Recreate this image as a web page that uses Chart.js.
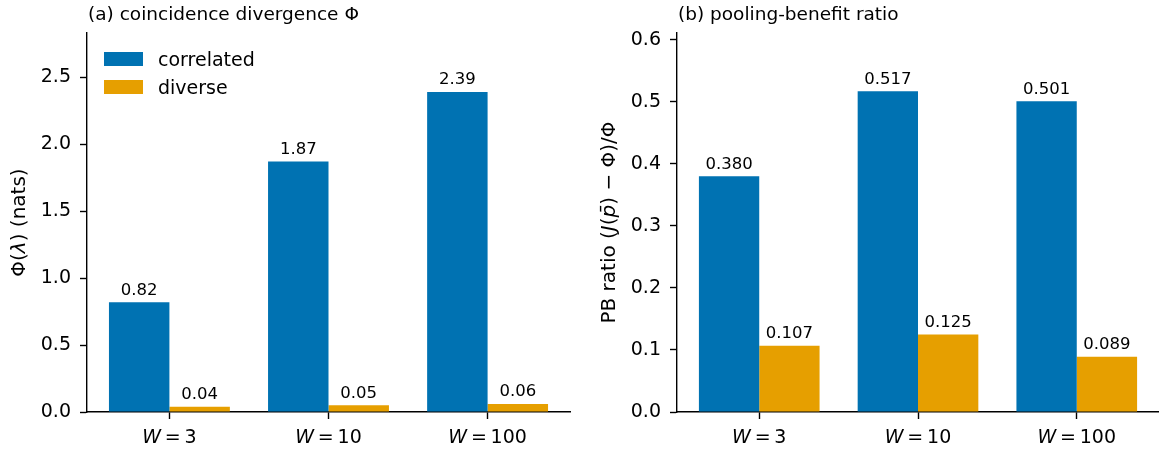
<!DOCTYPE html>
<html>
<head>
<meta charset="utf-8">
<script src="https://cdn.jsdelivr.net/npm/chart.js@4.4.1/dist/chart.umd.min.js"></script>
<style>
  html, body { margin: 0; padding: 0; background: #fff; }
  #wrap { position: relative; width: 1159px; height: 451px; overflow: hidden; }
  canvas { position: absolute; top: 0; }
</style>
</head>
<body>
<div id="wrap">
  <canvas id="c1" width="580" height="451" style="left:0px"></canvas>
  <canvas id="c2" width="569" height="451" style="left:590px"></canvas>
</div>
<script>
// ---- data ----
const categories = ['W = 3', 'W = 10', 'W = 100'];
const seriesNames = ['correlated', 'diverse'];
const phiCorrelated = [0.82, 1.87, 2.39];
const phiDiverse = [0.04, 0.05, 0.06];
const pbCorrelated = [0.380, 0.517, 0.501];
const pbDiverse = [0.107, 0.125, 0.089];
const phiTicks = [0, 0.5, 1.0, 1.5, 2.0, 2.5];
const pbTicks = [0, 0.1, 0.2, 0.3, 0.4, 0.5, 0.6];
const titleA = '(a) coincidence divergence Φ';
const titleB = '(b) pooling-benefit ratio';
const yTitleA = [{t: 'Φ('}, {t: 'λ', i: true}, {t: ') (nats)'}];
const yTitleB = [{t: 'PB ratio ('}, {t: 'J', i: true}, {t: '('}, {t: 'p\u0304', i: true}, {t: ') − Φ)/Φ'}];

const BLUE = '#0072B2', ORANGE = '#E69F00';
const FF = '"DejaVu Sans", sans-serif';
const TICK_PX = 19, LABEL_PX = 16.5, TITLE_PX = 18.5, YTITLE_PX = 20;

function fontOf(seg, px) { return (seg.i ? 'italic ' : '') + px + 'px ' + FF; }
function drawRich(ctx, segs, x, y, px, align) {
  let total = 0;
  const w = s => { if (s.gap) return s.gap * px; ctx.font = fontOf(s, px); return ctx.measureText(s.t).width; };
  segs.forEach(s => { total += w(s); });
  let cx = align === 'center' ? x - total / 2 : x;
  ctx.textAlign = 'left';
  segs.forEach(s => {
    const ww = w(s);
    if (!s.gap) { ctx.font = fontOf(s, px); ctx.fillText(s.t, cx, y); }
    cx += ww;
  });
}
function catSegs(label) {
  // "W = 3": variable italic, relation spaced like math text
  const parts = label.split(' ');
  return [{t: parts[0], i: true}, {gap: 0.2}, {t: parts[1]}, {gap: 0.2}, {t: parts[2]}];
}

function makeDecor(opts) {
  return {
    id: 'decor',
    afterDraw(chart) {
      const ctx = chart.ctx, ca = chart.chartArea;
      ctx.save();
      ctx.fillStyle = '#000';
      ctx.textBaseline = 'alphabetic';
      // title (left aligned)
      ctx.font = TITLE_PX + 'px ' + FF;
      ctx.textAlign = 'left';
      ctx.fillText(opts.title, ca.left + 1, 20);
      // y title (rotated)
      ctx.save();
      ctx.translate(ca.left - 62, (ca.top + ca.bottom) / 2);
      ctx.rotate(-Math.PI / 2);
      drawRich(ctx, opts.yTitle, 0, 0, YTITLE_PX, 'center');
      ctx.restore();
      // x category labels
      const xs = chart.scales.x;
      categories.forEach((c, i) => {
        drawRich(ctx, catSegs(c), xs.getPixelForValue(i), 443, TICK_PX, 'center');
      });
      // bar value labels
      ctx.font = LABEL_PX + 'px ' + FF;
      ctx.textAlign = 'center';
      chart.data.datasets.forEach((ds, di) => {
        const meta = chart.getDatasetMeta(di);
        meta.data.forEach((el, i) => {
          ctx.fillText(ds.data[i].y.toFixed(opts.decimals), el.x, el.y - 7.5);
        });
      });
      // legend
      if (opts.legend) {
        ctx.font = TICK_PX + 'px ' + FF;
        ctx.textAlign = 'left';
        chart.data.datasets.forEach((ds, di) => {
          const by = 52 + di * 28;
          ctx.fillStyle = ds.backgroundColor;
          ctx.fillRect(104, by, 39, 14);
          ctx.fillStyle = '#000';
          ctx.fillText(ds.label, 158, by + 14);
        });
      }
      ctx.restore();
    }
  };
}

function makeChart(id, a, b, yMax, yTicks, decimals, title, yTitle, legend, padRight) {
  const toPts = arr => arr.map((v, i) => ({x: i, y: v}));
  return new Chart(document.getElementById(id), {
    type: 'bar',
    data: {
      datasets: [
        {label: seriesNames[0], data: toPts(a), backgroundColor: BLUE, borderWidth: 0,
         categoryPercentage: 0.76, barPercentage: 1.0},
        {label: seriesNames[1], data: toPts(b), backgroundColor: ORANGE, borderWidth: 0,
         categoryPercentage: 0.76, barPercentage: 1.0}
      ]
    },
    options: {
      responsive: false,
      animation: false,
      devicePixelRatio: 1,
      layout: {padding: {top: 33, right: padRight, left: 0, bottom: 0}},
      plugins: {legend: {display: false}, title: {display: false}, tooltip: {enabled: false}},
      scales: {
        x: {
          type: 'linear', min: -0.518, max: 2.518, offset: false,
          afterBuildTicks: s => { s.ticks = categories.map((c, i) => ({value: i})); },
          afterFit: s => { s.height = 39; },
          ticks: {display: false},
          grid: {display: true, offset: false, drawOnChartArea: false, drawTicks: true,
                 tickLength: 7, tickColor: '#000', tickWidth: 1.4, color: '#000'},
          border: {display: true, color: '#000', width: 1.4}
        },
        y: {
          type: 'linear', min: 0, max: yMax,
          afterBuildTicks: s => { s.ticks = yTicks.map(v => ({value: v})); },
          afterFit: s => { s.width = 87; },
          ticks: {color: '#000', font: {family: FF, size: TICK_PX}, padding: 9,
                  callback: v => Number(v).toFixed(1)},
          grid: {display: true, drawOnChartArea: false, drawTicks: true,
                 tickLength: 7, tickColor: '#000', tickWidth: 1.4, color: '#000'},
          border: {display: true, color: '#000', width: 1.4}
        }
      }
    },
    plugins: [makeDecor({title, yTitle, decimals, legend})]
  });
}

makeChart('c1', phiCorrelated, phiDiverse, 2.83, phiTicks, 2, titleA, yTitleA, true, 10);
makeChart('c2', pbCorrelated, pbDiverse, 0.611, pbTicks, 3, titleB, yTitleB, false, 0);
</script>
</body>
</html>
